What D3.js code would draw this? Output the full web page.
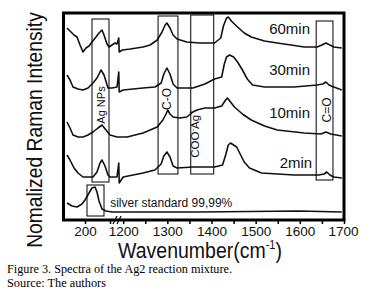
<!DOCTYPE html>
<html>
<head>
<meta charset="utf-8">
<script src="https://cdn.jsdelivr.net/npm/d3@7"></script>
<style>
  body { margin: 0; background: #fff; }
  svg { display: block; font-family: "Liberation Sans", Arial, sans-serif; }
</style>
</head>
<body>
<div id="chart"></div>
<script>
// Spectra: [wavenumber, intensity (a.u., offsets included)]
const min60 = [[164,191],[170,188],[178,184],[184,182],[190,174],[196,167],[202,171],[208,173],[214,177],[222,182],[228,186],[234,189],[238,184],[244,175],[248,172],[254,174],[260,176],[264,175],
  [1190,181],[1191,167],[1198,169],[1216,170],[1245,172],[1261,174],[1277,179],[1288,187],[1295,194],[1299,196],[1306,191],[1313,184],[1322,180],[1344,177],[1373,176],[1407,176],
  [1421,181],[1427,193],[1434,201],[1438,202],[1447,197],[1459,192],[1474,186],[1490,182],[1520,178],[1549,176],[1580,174],[1610,172],[1639,172],[1650,174],[1659,176],[1668,174],[1677,172],[1695,171]];
const min30 = [[164,144],[170,139],[176,132],[186,130],[196,129],[206,131],[216,136],[224,141],[232,149],[238,144],[246,131],[254,131],[264,132],
  [1190,147],[1191,127],[1200,129],[1245,131],[1272,132],[1286,136],[1292,145],[1299,151],[1306,145],[1313,135],[1322,131],[1358,131],[1385,135],[1407,140],
  [1423,142],[1429,155],[1434,162],[1441,164],[1450,162],[1459,157],[1470,149],[1481,140],[1493,134],[1520,132],[1587,132],[1639,134],[1652,135],[1659,137],[1666,134],[1677,132],[1695,129]];
const min10 = [[164,97],[170,91],[176,84],[186,82],[196,82],[206,84],[216,87],[226,91],[234,94],[242,89],[250,84],[264,82],
  [1200,82],[1209,82],[1245,86],[1261,89],[1277,92],[1290,99],[1297,105],[1301,109],[1306,105],[1313,102],[1328,101],[1344,102],[1358,107],[1367,109],[1385,111],[1407,111],
  [1423,113],[1432,119],[1436,121],[1443,117],[1452,112],[1470,105],[1490,99],[1520,93],[1549,89],[1610,86],[1648,85],[1659,87],[1670,85],[1695,83]];
const min2 = [[164,64],[170,59],[178,51],[186,46],[196,42],[216,42],[224,47],[230,56],[234,59],[240,53],[246,44],[250,42],[264,42],
  [1190,56],[1191,36],[1200,42],[1245,46],[1272,49],[1286,55],[1292,63],[1299,67],[1306,62],[1313,53],[1322,51],[1358,52],[1407,52],
  [1425,54],[1432,64],[1438,74],[1443,76],[1450,74],[1457,72],[1466,64],[1474,57],[1486,51],[1513,46],[1587,44],[1643,44],[1655,45],[1661,47],[1668,44],[1677,42],[1695,41]];
const silver = [[164,16],[174,13],[184,12],[194,15],[200,19],[208,26],[214,31],[220,32],[224,27],[228,18],[234,10],[242,8],[254,7],[264,7],
  [1200,7],[1373,7],[1486,7.5],[1598,8],[1695,7]];

const series = [min60, min30, min10, min2, silver];
const seriesLabels = ["60min", "30min", "10min", "2min"];
const labelPos = [[1623,185],[1623,144],[1623,101],[1628,51]];

// assignment boxes: [wn from, wn to, intensity low, intensity high]
const boxes = [[214,248,37,200],[204,238,3,34],[1279,1324,45,203],[1353,1405,45,204],[1637,1675,39,198]];

const lowTicks = [200, 250];
const highTicks = [1200, 1250, 1300, 1350, 1400, 1450, 1500, 1550, 1600, 1650, 1700];

const width = 370, height = 296;
const plot = { left: 63.5, right: 344, top: 13, bottom: 220, brk: 117 };

const svg = d3.select("#chart").append("svg")
    .attr("width", width).attr("height", height);

// broken x axis: two linear pieces
const xLow = d3.scaleLinear().domain([157, 264]).range([plot.left, plot.brk]);
const xHigh = d3.scaleLinear().domain([1186, 1700]).range([plot.brk, plot.right]);
const x = wn => wn < 1000 ? xLow(wn) : xHigh(wn);
const y = d3.scaleLinear().domain([0, 207]).range([219, 12]);

const line = d3.line().x(d => x(d[0])).y(d => y(d[1]));

svg.selectAll(".spec")
    .data(series)
    .enter()
    .append("path")
    .attr("class", "spec")
    .attr("d", line)
    .attr("fill", "none")
    .attr("stroke", "#111")
    .attr("stroke-width", 1.6)
    .attr("stroke-linejoin", "round");

svg.selectAll(".box")
    .data(boxes)
    .enter()
    .append("rect")
    .attr("x", d => x(d[0]))
    .attr("y", d => y(d[3]))
    .attr("width", d => x(d[1]) - x(d[0]))
    .attr("height", d => y(d[2]) - y(d[3]))
    .attr("fill", "none")
    .attr("stroke", "#000")
    .attr("stroke-width", 1);

// time labels
svg.selectAll(".tlab")
    .data(seriesLabels)
    .enter()
    .append("text")
    .attr("x", (d, i) => x(labelPos[i][0]))
    .attr("y", (d, i) => y(labelPos[i][1]))
    .attr("text-anchor", "end")
    .style("font-size", "15px")
    .style("fill", "#111")
    .text(d => d);

svg.append("text")
    .attr("x", x(1200) - 13)
    .attr("y", y(12))
    .style("font-size", "12px")
    .style("fill", "#111")
    .text("silver standard 99,99%");

// vertical labels inside the boxes
function vlabel(wn, inten, size) {
    return svg.append("text")
        .attr("transform", `translate(${x(wn)},${y(inten)}) rotate(-90)`)
        .attr("text-anchor", "middle")
        .style("font-size", size + "px")
        .style("fill", "#111");
}
vlabel(240, 114, 11).text("Ag NPs");
vlabel(1309, 120, 12).text("C-O");
vlabel(1670, 109, 12).text("C=O");
const coo = vlabel(1372, 85, 11.5);
coo.append("tspan").text("COO");
coo.append("tspan").attr("dy", -4).style("font-size", "8px").text("-");
coo.append("tspan").attr("dy", 4).text("Ag");
coo.append("tspan").attr("dy", -5).style("font-size", "8px").text("+");

// frame
svg.append("rect")
    .attr("x", plot.left).attr("y", plot.top)
    .attr("width", plot.right - plot.left)
    .attr("height", plot.bottom - plot.top)
    .attr("fill", "none")
    .attr("stroke", "#000")
    .attr("stroke-width", 3);

// axes
function styleAxis(g) {
    g.select(".domain").remove();
    g.selectAll(".tick line").attr("stroke", "#000").attr("stroke-width", 1.5);
    g.selectAll("text").style("font-size", "13.5px").style("fill", "#111")
        .style("font-family", "'Liberation Sans', Arial, sans-serif");
}
const fmt = d => d % 100 === 0 ? d : "";
svg.append("g")
    .attr("transform", `translate(0,${plot.bottom})`)
    .call(d3.axisBottom(xLow).tickValues(lowTicks).tickFormat(fmt).tickSize(4).tickPadding(2))
    .call(styleAxis);
svg.append("g")
    .attr("transform", `translate(0,${plot.bottom})`)
    .call(d3.axisBottom(xHigh).tickValues(highTicks).tickFormat(fmt).tickSize(4).tickPadding(2))
    .call(styleAxis)
    .call(g => g.selectAll(".tick").filter(d => d === 1700).select("text").attr("dx", -1));

// axis break marks
[-2, 2].forEach(o => {
    svg.append("line")
        .attr("x1", plot.brk + o - 2).attr("y1", plot.bottom + 4)
        .attr("x2", plot.brk + o + 2).attr("y2", plot.bottom - 4)
        .attr("stroke", "#000").attr("stroke-width", 1.2);
});

// axis titles
const xt = svg.append("text")
    .attr("transform", "translate(200,258) scale(1,1.12)")
    .attr("text-anchor", "middle")
    .style("font-size", "19.5px")
    .style("fill", "#111");
xt.append("tspan").text("Wavenumber(cm");
xt.append("tspan").attr("dy", -8).style("font-size", "11px").text("-1");
xt.append("tspan").attr("dy", 8).text(")");

svg.append("text")
    .attr("transform", "translate(42,130) rotate(-90) scale(1,1.1)")
    .attr("text-anchor", "middle")
    .style("font-size", "19.3px")
    .style("fill", "#111")
    .text("Nomalized Raman Intensity");

// caption
svg.append("text")
    .attr("x", 7).attr("y", 273)
    .attr("textLength", 225)
    .attr("lengthAdjust", "spacingAndGlyphs")
    .style("font-family", "'Liberation Serif', 'Times New Roman', serif")
    .style("font-size", "12px")
    .text("Figure 3. Spectra of the Ag2 reaction mixture.");
svg.append("text")
    .attr("x", 7).attr("y", 287)
    .attr("textLength", 99)
    .attr("lengthAdjust", "spacingAndGlyphs")
    .style("font-family", "'Liberation Serif', 'Times New Roman', serif")
    .style("font-size", "12px")
    .text("Source: The authors");
</script>
</body>
</html>
